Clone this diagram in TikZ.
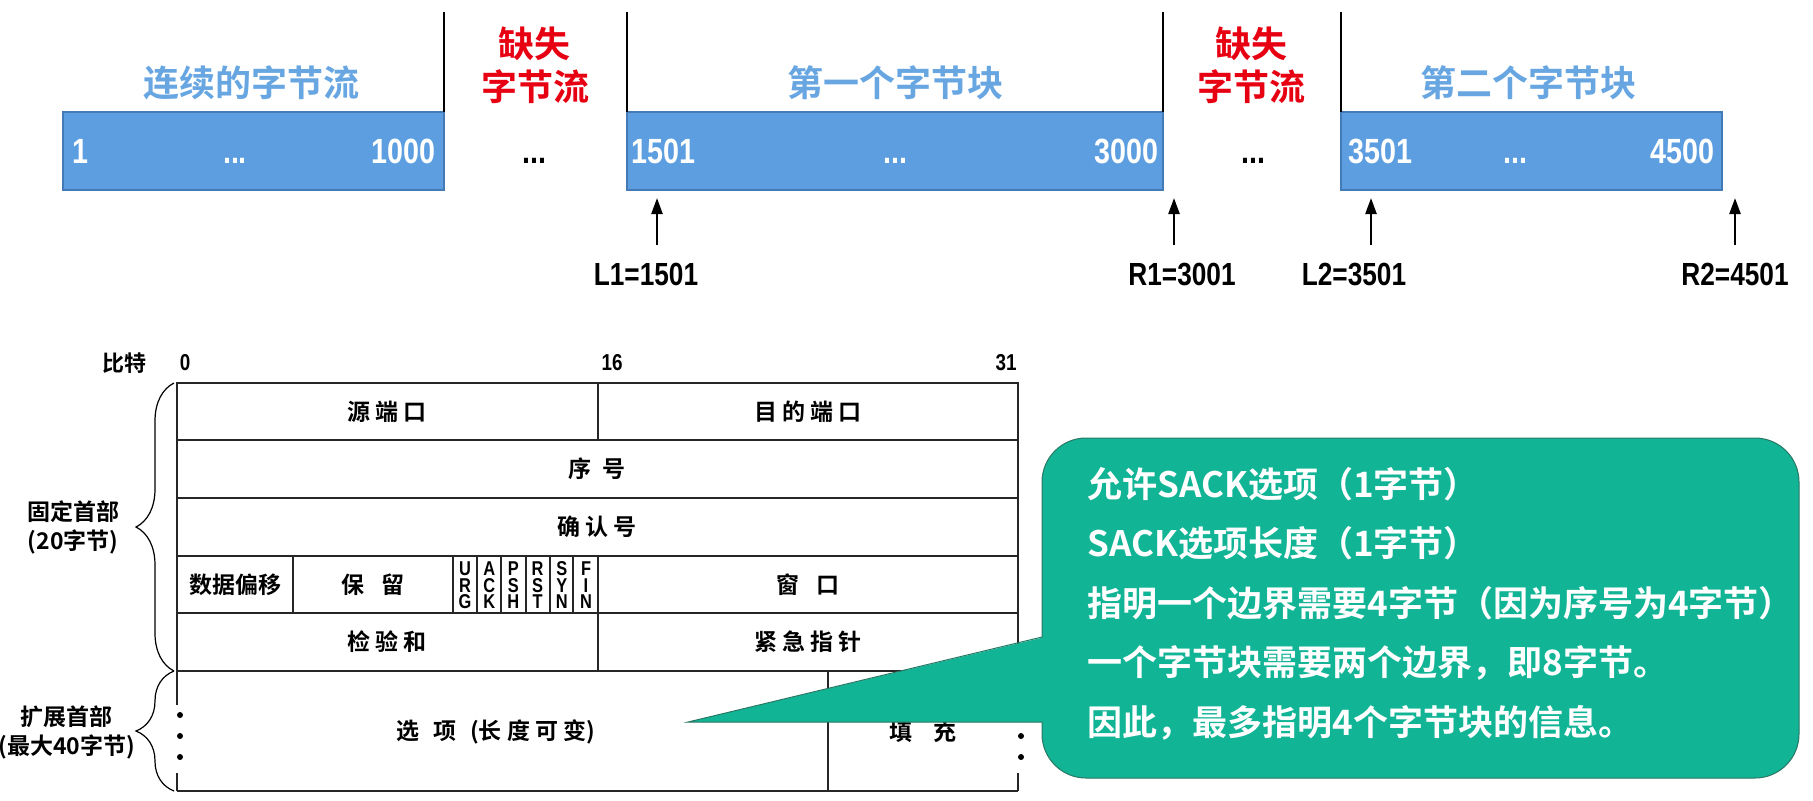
\documentclass[tikz,border=0pt]{standalone}
\usepackage{fontspec}
\usetikzlibrary{arrows.meta,decorations.pathreplacing}
\newfontfamily\cjk{Noto Sans CJK SC}[BoldFont={Noto Sans CJK SC Bold}]
\newfontfamily\nar{Liberation Sans}[FakeStretch=0.82]
\definecolor{barblue}{RGB}{92,158,224}
\definecolor{barline}{RGB}{68,122,182}
\definecolor{lblblue}{RGB}{104,166,226}
\definecolor{lostred}{RGB}{230,0,18}
\definecolor{notegreen}{RGB}{18,180,150}
\definecolor{noteline}{RGB}{40,120,100}
\begin{document}
\begin{tikzpicture}
	[
		x = 0.5pt, y = -0.5pt,
		blk/.style      = {draw=barline, line width=1pt, fill=barblue},
		cutline/.style  = {line width=1pt},
		barnum/.style   = {font=\nar\bfseries\fontsize{17.5}{20}\selectfont, text=white, inner sep=0pt},
		gapdots/.style  = {font=\nar\bfseries\fontsize{17.5}{20}\selectfont, inner sep=0pt, anchor=base},
		blkhead/.style  = {font=\cjk\bfseries\fontsize{18}{20}\selectfont, text=lblblue, inner sep=0pt},
		lost/.style     = {font=\cjk\bfseries\fontsize{18}{20}\selectfont, text=lostred, inner sep=0pt},
		uparrow/.style  = {-{Triangle[length=8pt,width=5.5pt]}, line width=1.2pt},
		marklbl/.style  = {font=\nar\bfseries\fontsize{16}{18}\selectfont, inner sep=0pt, anchor=base},
		tabline/.style  = {line width=0.75pt, draw=black!85},
		cell/.style     = {font=\cjk\bfseries\fontsize{11.5}{13}\selectfont, inner sep=0pt},
		bitlbl/.style   = {font=\nar\bfseries\fontsize{11.5}{13}\selectfont, inner sep=0pt},
		flagtxt/.style  = {font=\nar\bfseries\fontsize{10}{10}\selectfont, inner sep=0pt, text height=7.2pt, text depth=0pt, anchor=base},
		sidelbl/.style  = {font=\cjk\bfseries\fontsize{11.5}{14.5}\selectfont, align=center, inner sep=0pt},
		hdrbrace/.style = {decorate, decoration={brace, amplitude=19pt}, line width=0.6pt},
		notebox/.style  = {draw=noteline, line width=0.5pt, fill=notegreen, rounded corners=22pt},
		notetxt/.style  = {font=\cjk\bfseries\fontsize{17.5}{19}\selectfont, text=white, inner sep=0pt, anchor=base west}
	]
	\useasboundingbox (0,0) rectangle (1813,800);

	% byte stream
	\draw[blk] (63,112) rectangle (444,190);
	\draw[blk] (627,112) rectangle (1163,190);
	\draw[blk] (1341,112) rectangle (1722,190);
	\foreach \x in {444,627,1163,1341}
		\draw[cutline] (\x,12) -- (\x,112);

	\node[blkhead] (h0) at (251,83) {连续的字节流};
	\node[blkhead] (h1) at (895,83) {第一个字节块};
	\node[blkhead] (h2) at (1528,83) {第二个字节块};
	\node[lost] (g1a) at (534,44) {缺失};
	\node[lost] (g1b) at (535,87) {字节流};
	\node[lost] (g2a) at (1251,44) {缺失};
	\node[lost] (g2b) at (1251,87) {字节流};

	\node[barnum, anchor=base west] (n1) at (72,163) {1};
	\node[barnum, anchor=base east] (n2) at (436,163) {1000};
	\node[barnum, anchor=base west] (n3) at (631,163) {1501};
	\node[barnum, anchor=base east] (n4) at (1159,163) {3000};
	\node[barnum, anchor=base west] (n5) at (1348,163) {3501};
	\node[barnum, anchor=base east] (n6) at (1715,163) {4500};
	\foreach \x [count=\i] in {235,895,1515}
		\node[gapdots, text=white] (d\i) at (\x,163) {...};
	\node[gapdots] (m1) at (534,163) {...};
	\node[gapdots] (m2) at (1253,163) {...};

	\foreach \ax/\lx/\txt [count=\i] in {657/646/L1=1501, 1174/1182/R1=3001, 1371/1354/L2=3501, 1735/1735/R2=4501}
	{
		\coordinate (t\i) at (\ax,245);
		\coordinate (a\i) at (\ax,198);
		\draw[uparrow] (t\i) -- (a\i);
		\node[marklbl] (k\i) at (\lx,285) {\txt};
	}

	% TCP header
	\node[cell, font=\cjk\bfseries\fontsize{11}{13}\selectfont] (bits) at (124,363) {比特};
	\node[bitlbl] (b0) at (185,363) {0};
	\node[bitlbl] (b16) at (612,363) {16};
	\node[bitlbl] (b31) at (1006,363) {31};

	\draw[tabline] (177,383) rectangle (1018,671);
	\foreach \y in {440,498,556,613}
		\draw[tabline] (177,\y) -- (1018,\y);
	\draw[tabline] (598,383) -- (598,440);
	\draw[tabline] (598,556) -- (598,671);
	\foreach \x in {293,453,477,501,526,550,573}
		\draw[tabline] (\x,556) -- (\x,613);
	\draw[tabline] (177,791) -- (1018,791);
	\draw[tabline] (828,671) -- (828,791);
	\draw[tabline] (177,671) -- (177,705) (177,773) -- (177,791);
	\draw[tabline] (1018,671) -- (1018,705) (1018,773) -- (1018,791);
	\foreach \y in {715,736,757}
	{
		\fill (180,\y) circle[radius=1.5pt];
		\fill (1021,\y) circle[radius=1.5pt];
	}

	\node[cell] (srcport) at (387,411.5) {源 端 口};
	\node[cell] (dstport) at (808,411.5) {目 的 端 口};
	\node[cell] (seq) at (597,469) {序\hspace{0.5em}号};
	\node[cell] (ackno) at (597,527) {确 认 号};
	\node[cell] (offset) at (235,584.5) {数据偏移};
	\node[cell] (resv) at (373,584.5) {保\hspace{0.7em}留};
	\foreach \fa/\fb/\fc [count=\i from 0] in {U/R/G, A/C/K, P/S/H, R/S/T, S/Y/N, F/I/N}
	{
		\node[flagtxt] (f\i a) at ({465+24.2*\i},575.5) {\fa};
		\node[flagtxt] (f\i b) at ({465+24.2*\i},592) {\fb};
		\node[flagtxt] (f\i c) at ({465+24.2*\i},608.5) {\fc};
	}
	\node[cell] (wnd) at (808,584.5) {窗\hspace{0.75em}口};
	\node[cell] (csum) at (387,642) {检 验 和};
	\node[cell] (urg) at (808,642) {紧 急 指 针};
	\node[cell] (opts) at (496,732) {选\hspace{0.6em}项\hspace{0.6em}(长 度 可 变)};
	\node[cell] (pad) at (923,732) {填\hspace{0.9em}充};

	\draw[hdrbrace] (174,671) -- (174,383);
	\draw[hdrbrace] (174,791) -- (174,671);
	\node[sidelbl] (fixed) at (73,527) {固定首部\\(20字节)};
	\node[sidelbl] (ext) at (67,732) {扩展首部\\(最大40字节)};

	% SACK note
	\draw[notebox] (1042,438) rectangle (1799,778);
	\coordinate (tip) at (688,722);
	\coordinate (p1) at (1042,637);
	\coordinate (p2) at (1042,722);
	\fill[notegreen] (1045,637) -- (tip) -- (1045,722) -- cycle;
	\draw[noteline, line width=0.5pt] (p1) -- (tip) -- (p2);
	\foreach \t [count=\i from 0] in {{允许SACK选项（1字节）},{SACK选项长度（1字节）},{指明一个边界需要4字节（因为序号为4字节）},{一个字节块需要两个边界，即8字节。},{因此，最多指明4个字节块的信息。}}
		\node[notetxt] (note\i) at (1087,{497+59.5*\i}) {\t};
\end{tikzpicture}
\end{document}
